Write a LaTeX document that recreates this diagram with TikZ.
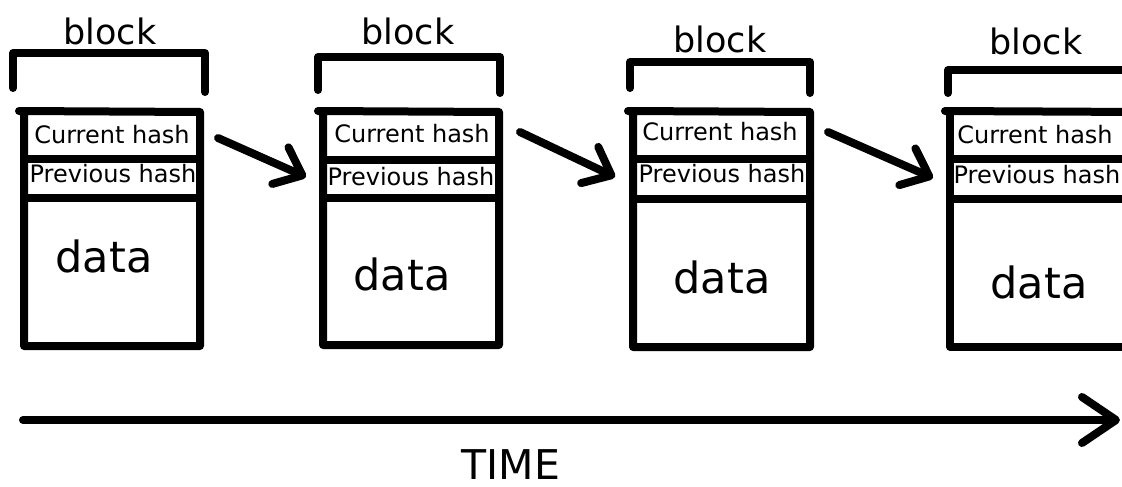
\documentclass[tikz,border=0pt]{standalone}
\usepackage{fontspec}
\setmainfont{DejaVu Sans}
\usetikzlibrary{arrows.meta}
\begin{document}
\begin{tikzpicture}[x=1pt,y=-1pt,
  ink/.style={line width=8pt,line cap=round,line join=round},
  blocklabel/.style={anchor=base,inner sep=0pt,font=\fontsize{35}{40}\selectfont},
  hashtext/.style={anchor=base,inner sep=0pt,font=\fontsize{24}{28}\selectfont},
  datatext/.style={anchor=base,inner sep=0pt,font=\fontsize{43}{50}\selectfont},
  timetext/.style={anchor=base,inner sep=0pt,font=\fontsize{41}{46}\selectfont},
  chainlink/.style={ink,-{Straight Barb[length=24pt,width=40pt,round]}},
  timeline/.style={ink,-{Straight Barb[length=34pt,width=46pt,round]}}]
\useasboundingbox (0,0) rectangle (1122,487);
\clip (0,0) rectangle (1122,487);

% ---- block 1 ----
\draw[ink] (13,88) -- (13,53) -- (205,53) -- (205,92);
\node[blocklabel] (lbl1) at (110,45) {block};
\draw[ink] (19,111) -- (200,112) -- (200,346) -- (24,346) -- (24,112);
\draw[ink] (24,159) -- (200,159);
\draw[ink] (24,198) -- (200,198);
\node[hashtext] (cur1) at (112,143) {Current hash};
\node[hashtext] (prev1) at (113,182) {Previous hash};
\node[datatext] (data1) at (104,272) {data};

% ---- block 2 ----
\draw[ink] (318,90) -- (318,57) -- (500,57) -- (500,93);
\node[blocklabel] (lbl2) at (408,45) {block};
\draw[ink] (318,111) -- (499,112) -- (499,345) -- (323,345) -- (323,112);
\draw[ink] (323,160) -- (499,160);
\draw[ink] (323,198) -- (499,198);
\node[hashtext] (cur2) at (412,142) {Current hash};
\node[hashtext] (prev2) at (411,185) {Previous hash};
\node[datatext] (data2) at (402,290) {data};

% ---- block 3 ----
\draw[ink] (630,88) -- (630,62) -- (810,62) -- (810,93);
\node[blocklabel] (lbl3) at (720,53) {block};
\draw[ink] (628,111) -- (810,112) -- (810,347) -- (633,347) -- (633,112);
\draw[ink] (633,159) -- (810,159);
\draw[ink] (633,199) -- (810,199);
\node[hashtext] (cur3) at (720,140) {Current hash};
\node[hashtext] (prev3) at (722,182) {Previous hash};
\node[datatext] (data3) at (722,293) {data};

% ---- block 4 (runs past the right edge) ----
\draw[ink] (948,93) -- (948,70) -- (1140,70);
\node[blocklabel] (lbl4) at (1036,55) {block};
\draw[ink] (1140,347) -- (950,347) -- (950,112);
\draw[ink] (945,111) -- (1140,112);
\draw[ink] (950,159) -- (1140,159);
\draw[ink] (950,199) -- (1140,199);
\node[hashtext] (cur4) at (1035,143) {Current hash};
\node[hashtext] (prev4) at (1037,183) {Previous hash};
\node[datatext] (data4) at (1039,298) {data};

% ---- hash links between blocks ----
\coordinate (l1s) at (218,138);
\coordinate (l1e) at (306,177);
\coordinate (l2s) at (520,132);
\coordinate (l2e) at (615,177);
\coordinate (l3s) at (828,132);
\coordinate (l3e) at (933,178);
\draw[chainlink] (l1s) -- (l1e);
\draw[chainlink] (l2s) -- (l2e);
\draw[chainlink] (l3s) -- (l3e);

% ---- time axis ----
\coordinate (t0) at (23,420);
\coordinate (t1) at (1120,420);
\draw[timeline] (t0) -- (t1);
\node[timetext] (time) at (511,479) {TIME};
\end{tikzpicture}
\end{document}
